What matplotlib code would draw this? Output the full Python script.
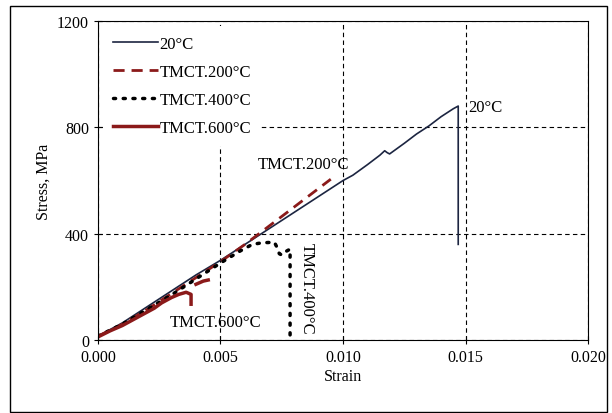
import matplotlib
matplotlib.use("Agg")
import matplotlib.pyplot as plt
from matplotlib.patches import Rectangle

plt.rcParams['font.family'] = ['Liberation Serif', 'DejaVu Serif']

# 20°C
s20_x = [0.0, 0.001, 0.002, 0.003, 0.004, 0.005, 0.006, 0.007, 0.008, 0.009, 0.0100, 0.0104,
         0.0110, 0.0115, 0.0117, 0.0118, 0.0119, 0.0125, 0.0130, 0.0135, 0.0140, 0.0145, 0.0147, 0.0147]
s20_y = [15, 65, 125, 185, 245, 300, 360, 420, 480, 540, 600, 620,
         660, 695, 712, 705, 700, 740, 775, 805, 840, 870, 880, 360]
# TMCT.200°C
s200_x = [0.0, 0.001, 0.002, 0.003, 0.004, 0.005, 0.006, 0.007, 0.008, 0.009, 0.0095]
s200_y = [15, 60, 115, 175, 235, 295, 360, 430, 500, 570, 605]
# TMCT.400°C
s400_x = [0.0, 0.001, 0.002, 0.003, 0.004, 0.005, 0.0058, 0.0063, 0.0067, 0.0072,
          0.0073, 0.0074, 0.0075, 0.0077, 0.00784, 0.00784, 0.00784, 0.00784]
s400_y = [15, 60, 115, 170, 230, 290, 335, 360, 366, 368,
          350, 325, 320, 335, 342, 200, 50, 0]
# TMCT.600°C
s600_x = [0.0, 0.0005, 0.001, 0.0013, 0.0016, 0.002, 0.0023, 0.0026, 0.003, 0.0033, 0.0036, 0.0038, 0.0038]
s600_y = [12, 35, 55, 70, 85, 105, 120, 140, 160, 172, 180, 172, 135]
s600b_x = [0.0040, 0.0043, 0.0045]
s600b_y = [210, 222, 226]

fig = plt.figure(figsize=(6.12, 4.14), dpi=100)
ax = fig.add_axes([0.160, 0.176, 0.801, 0.771])

red = '#8b1a1a'
ax.plot(s20_x, s20_y, color='#1c2541', lw=1.2, label='20°C')
ax.plot(s200_x, s200_y, color=red, lw=2, ls=(0, (4, 2.5)), label='TMCT.200°C')
ax.plot(s400_x, s400_y, color='black', lw=2.5, ls=(0, (0.6, 2.2)), dash_capstyle='round', label='TMCT.400°C')
ax.plot(s600_x, s600_y, color=red, lw=2.5, label='TMCT.600°C')
ax.plot(s600b_x, s600b_y, color=red, lw=2.5)

ax.set_xlim(0, 0.020)
ax.set_ylim(0, 1200)
ax.set_xticks([0.0, 0.005, 0.010, 0.015, 0.020])
ax.set_xticklabels(['0.000', '0.005', '0.010', '0.015', '0.020'])
ax.set_yticks([0, 400, 800, 1200])
ax.grid(True, color='black', ls=(0, (4, 3)), lw=0.8)
ax.tick_params(labelsize=11.5, direction='inout', length=6)
ax.set_xlabel('Strain', fontsize=11.5, labelpad=2)
ax.set_ylabel('Stress, MPa', fontsize=11.5)

leg = ax.legend(loc='upper left', frameon=True, fontsize=12, handlelength=2.7, handletextpad=0.1,
                borderaxespad=0.3, labelspacing=0.72, borderpad=0.6,
                facecolor='white', edgecolor='none', framealpha=1, fancybox=False)

ax.text(0.0151, 875, '20°C', fontsize=12, va='center', ha='left')
ax.text(0.0084, 662, 'TMCT.200°C', fontsize=12, va='center', ha='center')
ax.text(0.0082, 368, 'TMCT.400°C', fontsize=12, va='top', ha='left', rotation=-90)
ax.text(0.0048, 68, 'TMCT.600°C', fontsize=12, va='center', ha='center')

fig.patches.append(Rectangle((0.016, 0.003), 0.976, 0.98, transform=fig.transFigure,
                             fill=False, edgecolor='black', lw=1))

fig.savefig('out.png', dpi=100)
